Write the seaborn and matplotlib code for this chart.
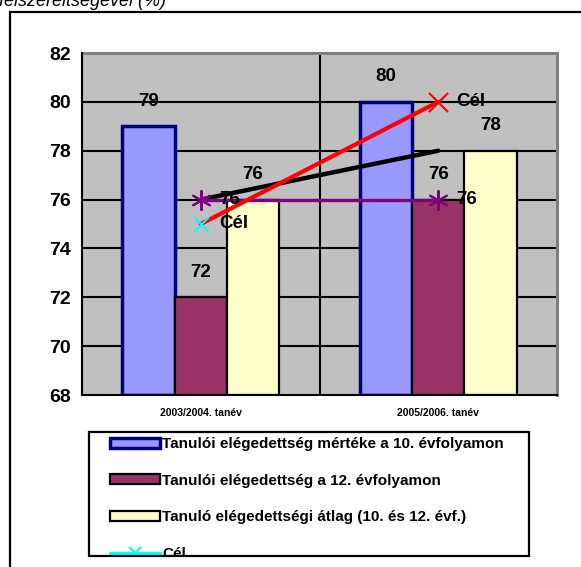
import numpy as np
import pandas as pd
import matplotlib
matplotlib.use('Agg')
import matplotlib.pyplot as plt
from matplotlib.patches import Patch, Rectangle
from matplotlib.lines import Line2D
import seaborn as sns

# data
years = ['2003/2004. tanév', '2005/2006. tanév']
series = ['Tanulói elégedettség mértéke a 10. évfolyamon',
          'Tanulói elégedettség a 12. évfolyamon',
          'Tanuló elégedettségi átlag (10. és 12. évf.)']
grade10 = [79, 80]
grade12 = [72, 76]
average = [76, 78]
target = [75, 80]        # Cél
grade12_line = [76, 76]  # purple line
avg_trend = [76, 78]     # black line

bar_colors = ['#9999FF', '#993366', '#FFFFCC']
edge_colors = ['#000080', '#000000', '#000000']

sns.set_style('white')
plt.rcParams['font.family'] = ['Liberation Sans', 'DejaVu Sans']
plt.rcParams['font.weight'] = 'bold'
plt.rcParams['text.color'] = 'black'
plt.rcParams['xtick.color'] = 'black'
plt.rcParams['ytick.color'] = 'black'

df = pd.DataFrame({
    'year': years * 3,
    'series': [s for s in series for _ in years],
    'value': grade10 + grade12 + average,
})

fig = plt.figure(figsize=(5.81, 5.67), dpi=100)
ax = fig.add_axes([82 / 581, 1 - 395 / 567, 475 / 581, 342 / 567])
ax.set_facecolor('#C0C0C0')

sns.barplot(data=df, x='year', y='value', hue='series', palette=bar_colors,
            saturation=1, width=0.66, ax=ax, legend=False, zorder=2)

for cont, ec, lw in zip(ax.containers, edge_colors, [2.5, 1.6, 1.6]):
    for p in cont:
        p.set_edgecolor(ec)
        p.set_linewidth(lw)
        # bars start at the bottom of the y range
        h = p.get_y() + p.get_height()
        p.set_y(68)
        p.set_height(h - 68)
    ax.bar_label(cont, labels=[f'{int(round(p.get_y() + p.get_height()))}' for p in cont],
                 padding=12, fontsize=13.5, fontweight='bold', color='black')

xs = [0, 1]
# black line
sns.lineplot(x=xs, y=avg_trend, color='black', linewidth=3.2, ax=ax, zorder=5)
# purple line
sns.lineplot(x=xs, y=grade12_line, color='#800080', linewidth=2.4, ax=ax, zorder=6)
ax.scatter(xs, grade12_line, marker=(6, 2, 0), s=190, color='#800080', linewidth=1.5, zorder=7)
# target line
sns.lineplot(x=xs, y=target, color='red', linewidth=3, ax=ax, zorder=6)
ax.scatter(xs[0], target[0], marker='x', s=110, color='cyan', linewidth=1.5, zorder=7)
ax.scatter(xs[1], target[1], marker='x', s=190, color='red', linewidth=1.5, zorder=7)

for x, v in zip(xs, grade12_line):
    ax.annotate(f'{v}', (x, v), xytext=(13, 0), textcoords='offset points',
                va='center', ha='left', fontsize=13.5, fontweight='bold', zorder=8)
for x, v in zip(xs, target):
    ax.annotate('Cél', (x, v), xytext=(13, 0), textcoords='offset points',
                va='center', ha='left', fontsize=13.5, fontweight='bold', zorder=8)

ax.set_ylim(68, 82)
ax.set_xlim(-0.5, 1.5)
ax.set_yticks(np.arange(68, 83, 2))
ax.set_xticks([0, 1])
ax.set_xticklabels(years, fontsize=7.5, fontweight='bold')
ax.set_xticks([-0.5, 0.5, 1.5], minor=True)
ax.tick_params(axis='x', which='major', length=0, pad=9)
ax.tick_params(axis='x', which='minor', length=5, width=1.5, direction='out', color='black')
ax.tick_params(axis='y', length=5, width=1.5, direction='out', color='black',
               labelsize=14, pad=3)
for lab in ax.get_yticklabels():
    lab.set_fontweight('bold')
ax.set_xlabel('')
ax.set_ylabel('')

ax.grid(False)
for y in np.arange(70, 82, 2):
    ax.axhline(y, color='black', linewidth=1.5, zorder=1)
ax.axvline(0.5, color='black', linewidth=1.5, zorder=1)

for s in ['top', 'right']:
    ax.spines[s].set_color('#808080')
    ax.spines[s].set_linewidth(2.2)
for s in ['left', 'bottom']:
    ax.spines[s].set_color('black')
    ax.spines[s].set_linewidth(1.5)
    ax.spines[s].set_zorder(4)

# legend
handles = [Patch(facecolor=c, edgecolor=e, linewidth=lw)
           for c, e, lw in zip(bar_colors, edge_colors, [2.5, 1.6, 1.6])]
handles.append(Line2D([0], [0], color='cyan', linewidth=2.5, marker='x',
                      markersize=8, markeredgewidth=1.5))
fig.legend(handles, series + ['Cél'], loc='upper left',
           bbox_to_anchor=(110 / 581, 1 - 437 / 567), frameon=False,
           prop={'weight': 'bold', 'size': 11},
           handlelength=3.3, handleheight=0.65, handletextpad=0.1,
           labelspacing=1.48, borderpad=0, borderaxespad=0)

cover = Rectangle((0, 0), 1, 11 / 567, transform=fig.transFigure,
                  facecolor='white', edgecolor='none', zorder=20)
fig.patches.append(cover)
box = Rectangle((89 / 581, 11 / 567), 440 / 581, 124 / 567, transform=fig.transFigure,
                facecolor='none', edgecolor='black', linewidth=1.6, zorder=21)
fig.patches.append(box)
frame = Rectangle((10 / 581, -0.05), 1.0, 1 - 12 / 567 + 0.05, transform=fig.transFigure,
                  facecolor='none', edgecolor='black', linewidth=1.6, zorder=21)
fig.patches.append(frame)

fig.text(-0.002, 1 - 6 / 567, 'felszereltségével (%)', fontsize=13, style='italic',
         fontweight='normal', va='baseline', ha='left')

fig.savefig('out.png', dpi=100)
